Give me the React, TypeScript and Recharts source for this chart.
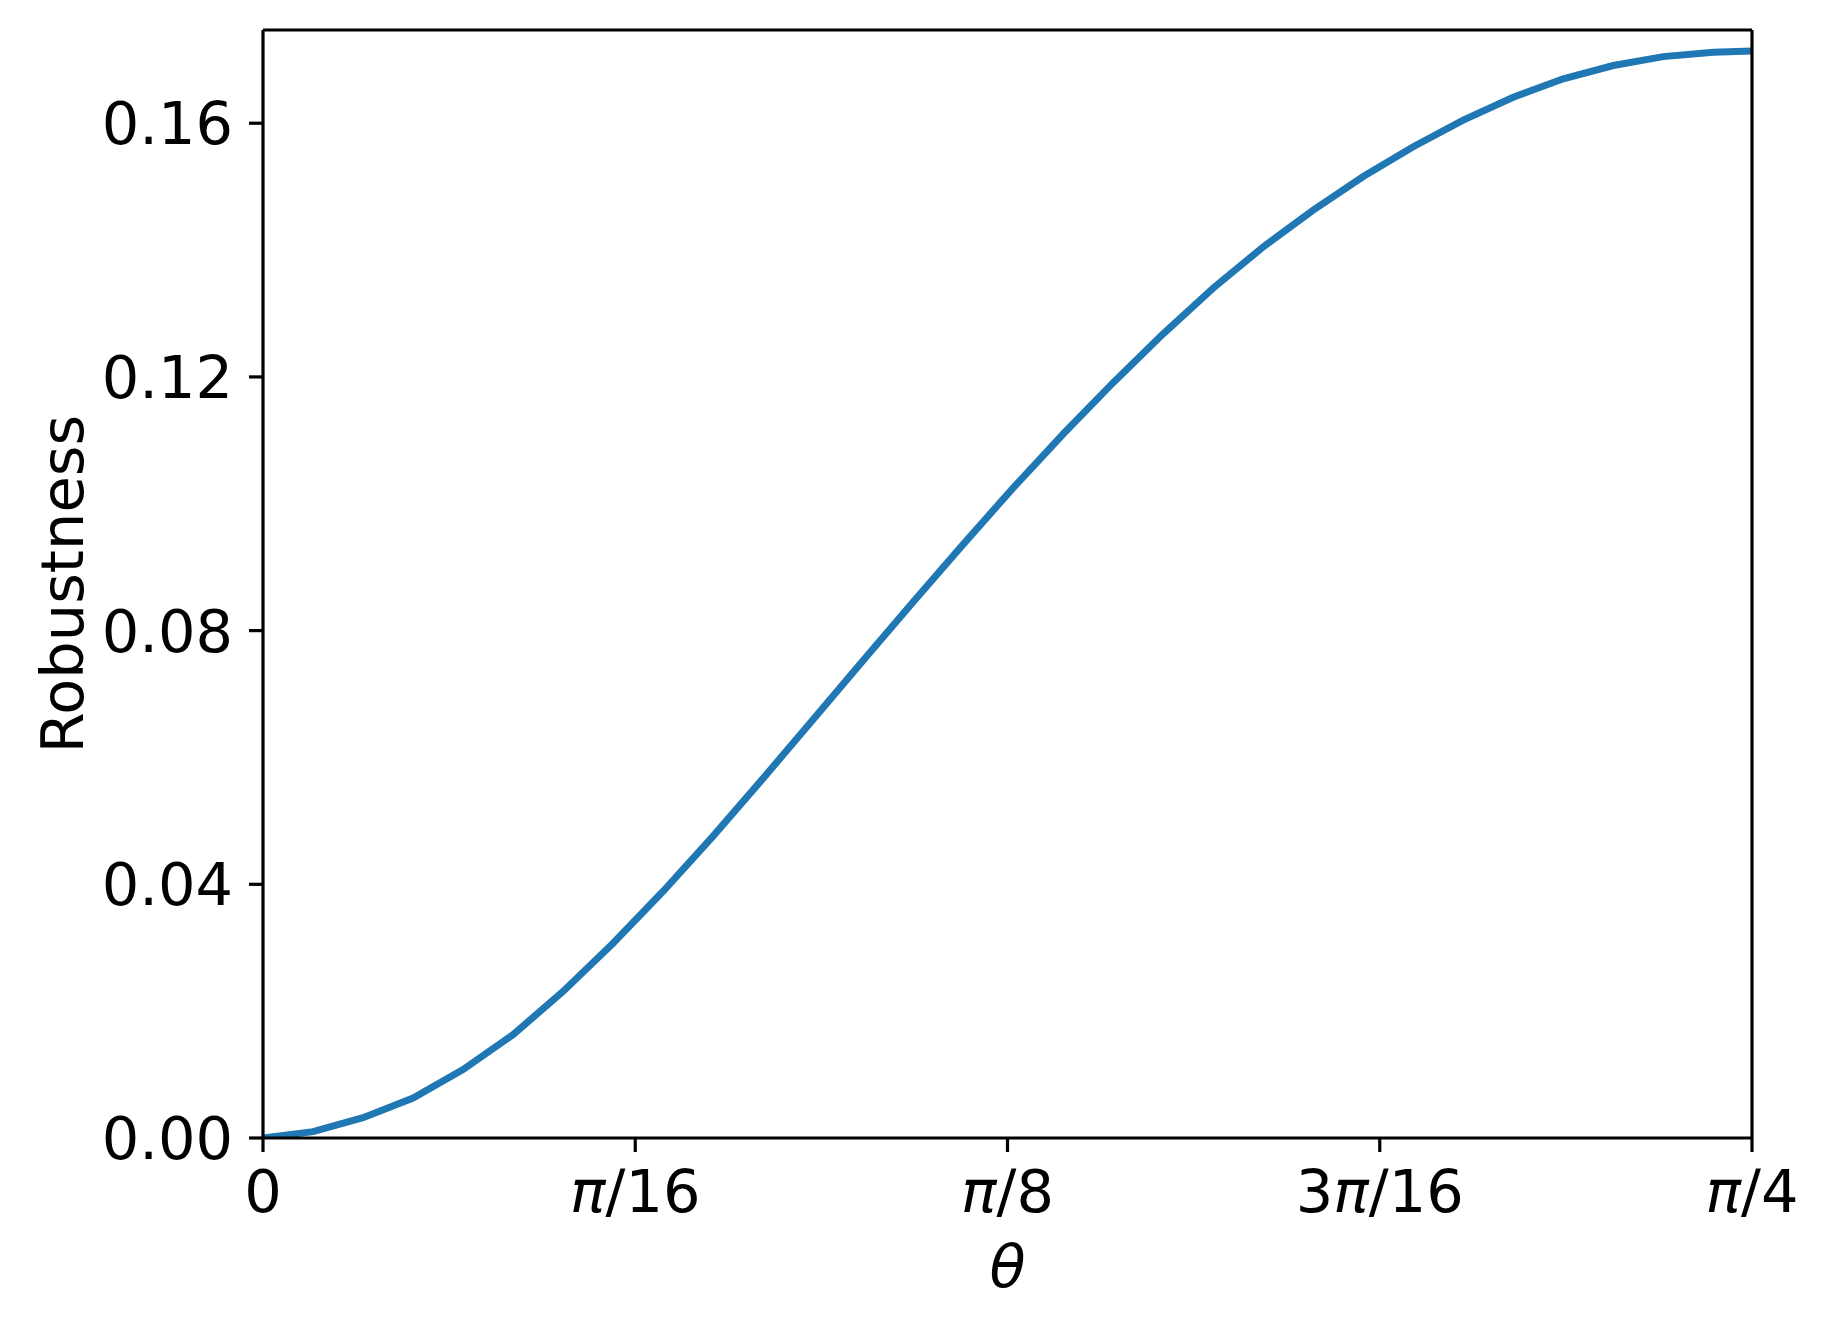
import React from "react";
import { LineChart, Line, XAxis, YAxis } from "recharts";

const thetaValues = [
  0, 0.02638, 0.05276, 0.07914, 0.10551, 0.13189, 0.15827, 0.18465, 0.21103, 0.23741,
  0.26378, 0.29016, 0.31654, 0.34292, 0.3693, 0.39568, 0.42206, 0.44843, 0.47481, 0.50119,
  0.52757, 0.55395, 0.58033, 0.60671, 0.63308, 0.65946, 0.68584, 0.71222, 0.7386, 0.76498,
  0.785398,
];
const robustnessValues = [
  0, 0.001, 0.0032, 0.0063, 0.0108, 0.0163, 0.0231, 0.0307, 0.0389, 0.0476,
  0.0567, 0.066, 0.0753, 0.0845, 0.0936, 0.1025, 0.111, 0.1191, 0.1268, 0.134,
  0.1405, 0.1463, 0.1516, 0.1563, 0.1605, 0.1641, 0.167, 0.1691, 0.1705, 0.1712,
  0.1714,
];
const xTickValues = [0, Math.PI / 16, Math.PI / 8, (3 * Math.PI) / 16, Math.PI / 4];
const xTickLabels = ["0", "π/16", "π/8", "3π/16", "π/4"];
const yTickValues = [0, 0.04, 0.08, 0.12, 0.16];
const yDomain = [0, 0.1747];
const xLabel = "θ";
const yLabel = "Robustness";

const data = thetaValues.map((t, i) => ({ theta: t, robustness: robustnessValues[i] }));

const FONT = "'DejaVu Sans', sans-serif";
const FS = 59;

const XTick = (props: any) => {
  const { x, y, payload } = props;
  const idx = xTickValues.findIndex((v) => Math.abs(v - payload.value) < 1e-9);
  const label = idx >= 0 ? xTickLabels[idx] : String(payload.value);
  const parts = label.split("π");
  return (
    <text x={x} y={y} dy="0.71em" textAnchor="middle" fontFamily={FONT} fontSize={FS} fill="#000">
      {parts.length === 1 ? (
        <tspan>{label}</tspan>
      ) : (
        <>
          {parts[0] ? <tspan>{parts[0]}</tspan> : null}
          <tspan fontStyle="italic">π</tspan>
          <tspan>{parts[1]}</tspan>
        </>
      )}
    </text>
  );
};

const XLabel = (props: any) => {
  const vb = props.viewBox;
  return (
    <text
      x={vb.x + vb.width / 2}
      y={vb.y + 149}
      textAnchor="middle"
      fontFamily={FONT}
      fontSize={FS}
      fontStyle="italic"
      fill="#000"
    >
      {xLabel}
    </text>
  );
};

const YLabel = (props: any) => {
  const vb = props.viewBox;
  const cx = vb.x + 62;
  const cy = vb.y + vb.height / 2;
  return (
    <text
      x={cx}
      y={cy}
      transform={`rotate(-90, ${cx}, ${cy})`}
      textAnchor="middle"
      dominantBaseline="central"
      fontFamily={FONT}
      fontSize={FS}
      fill="#000"
    >
      {yLabel}
    </text>
  );
};

export default function App() {
  const axisStroke = { stroke: "#000", strokeWidth: 3.2 };
  return (
    <div style={{ position: "absolute", left: 0, top: 0, width: 1826, height: 1328, background: "#fff" }}>
      <LineChart
        width={1826}
        height={1328}
        data={data}
        margin={{ top: 29, right: 73, left: 0, bottom: 0 }}
      >
        <XAxis
          dataKey="theta"
          type="number"
          domain={[0, Math.PI / 4]}
          ticks={xTickValues}
          interval={0}
          height={190}
          tick={<XTick />}
          tickSize={14}
          tickMargin={18}
          axisLine={axisStroke}
          tickLine={axisStroke}
          allowDataOverflow
          label={<XLabel />}
        />
        <XAxis
          xAxisId="top"
          orientation="top"
          type="number"
          domain={[0, Math.PI / 4]}
          height={1}
          tick={false}
          tickLine={false}
          axisLine={axisStroke}
        />
        <YAxis
          type="number"
          domain={yDomain}
          ticks={yTickValues}
          interval={0}
          width={263}
          tickSize={14}
          tickMargin={16}
          tickFormatter={(v: number) => v.toFixed(2)}
          tick={{ fontFamily: FONT, fontSize: FS, fill: "#000" }}
          axisLine={axisStroke}
          tickLine={axisStroke}
          allowDataOverflow
          label={<YLabel />}
        />
        <YAxis
          yAxisId="right"
          orientation="right"
          type="number"
          domain={yDomain}
          width={1}
          tick={false}
          tickLine={false}
          axisLine={axisStroke}
        />
        <Line
          type="linear"
          dataKey="robustness"
          stroke="#1f77b4"
          strokeWidth={7}
          dot={false}
          isAnimationActive={false}
        />
      </LineChart>
    </div>
  );
}
